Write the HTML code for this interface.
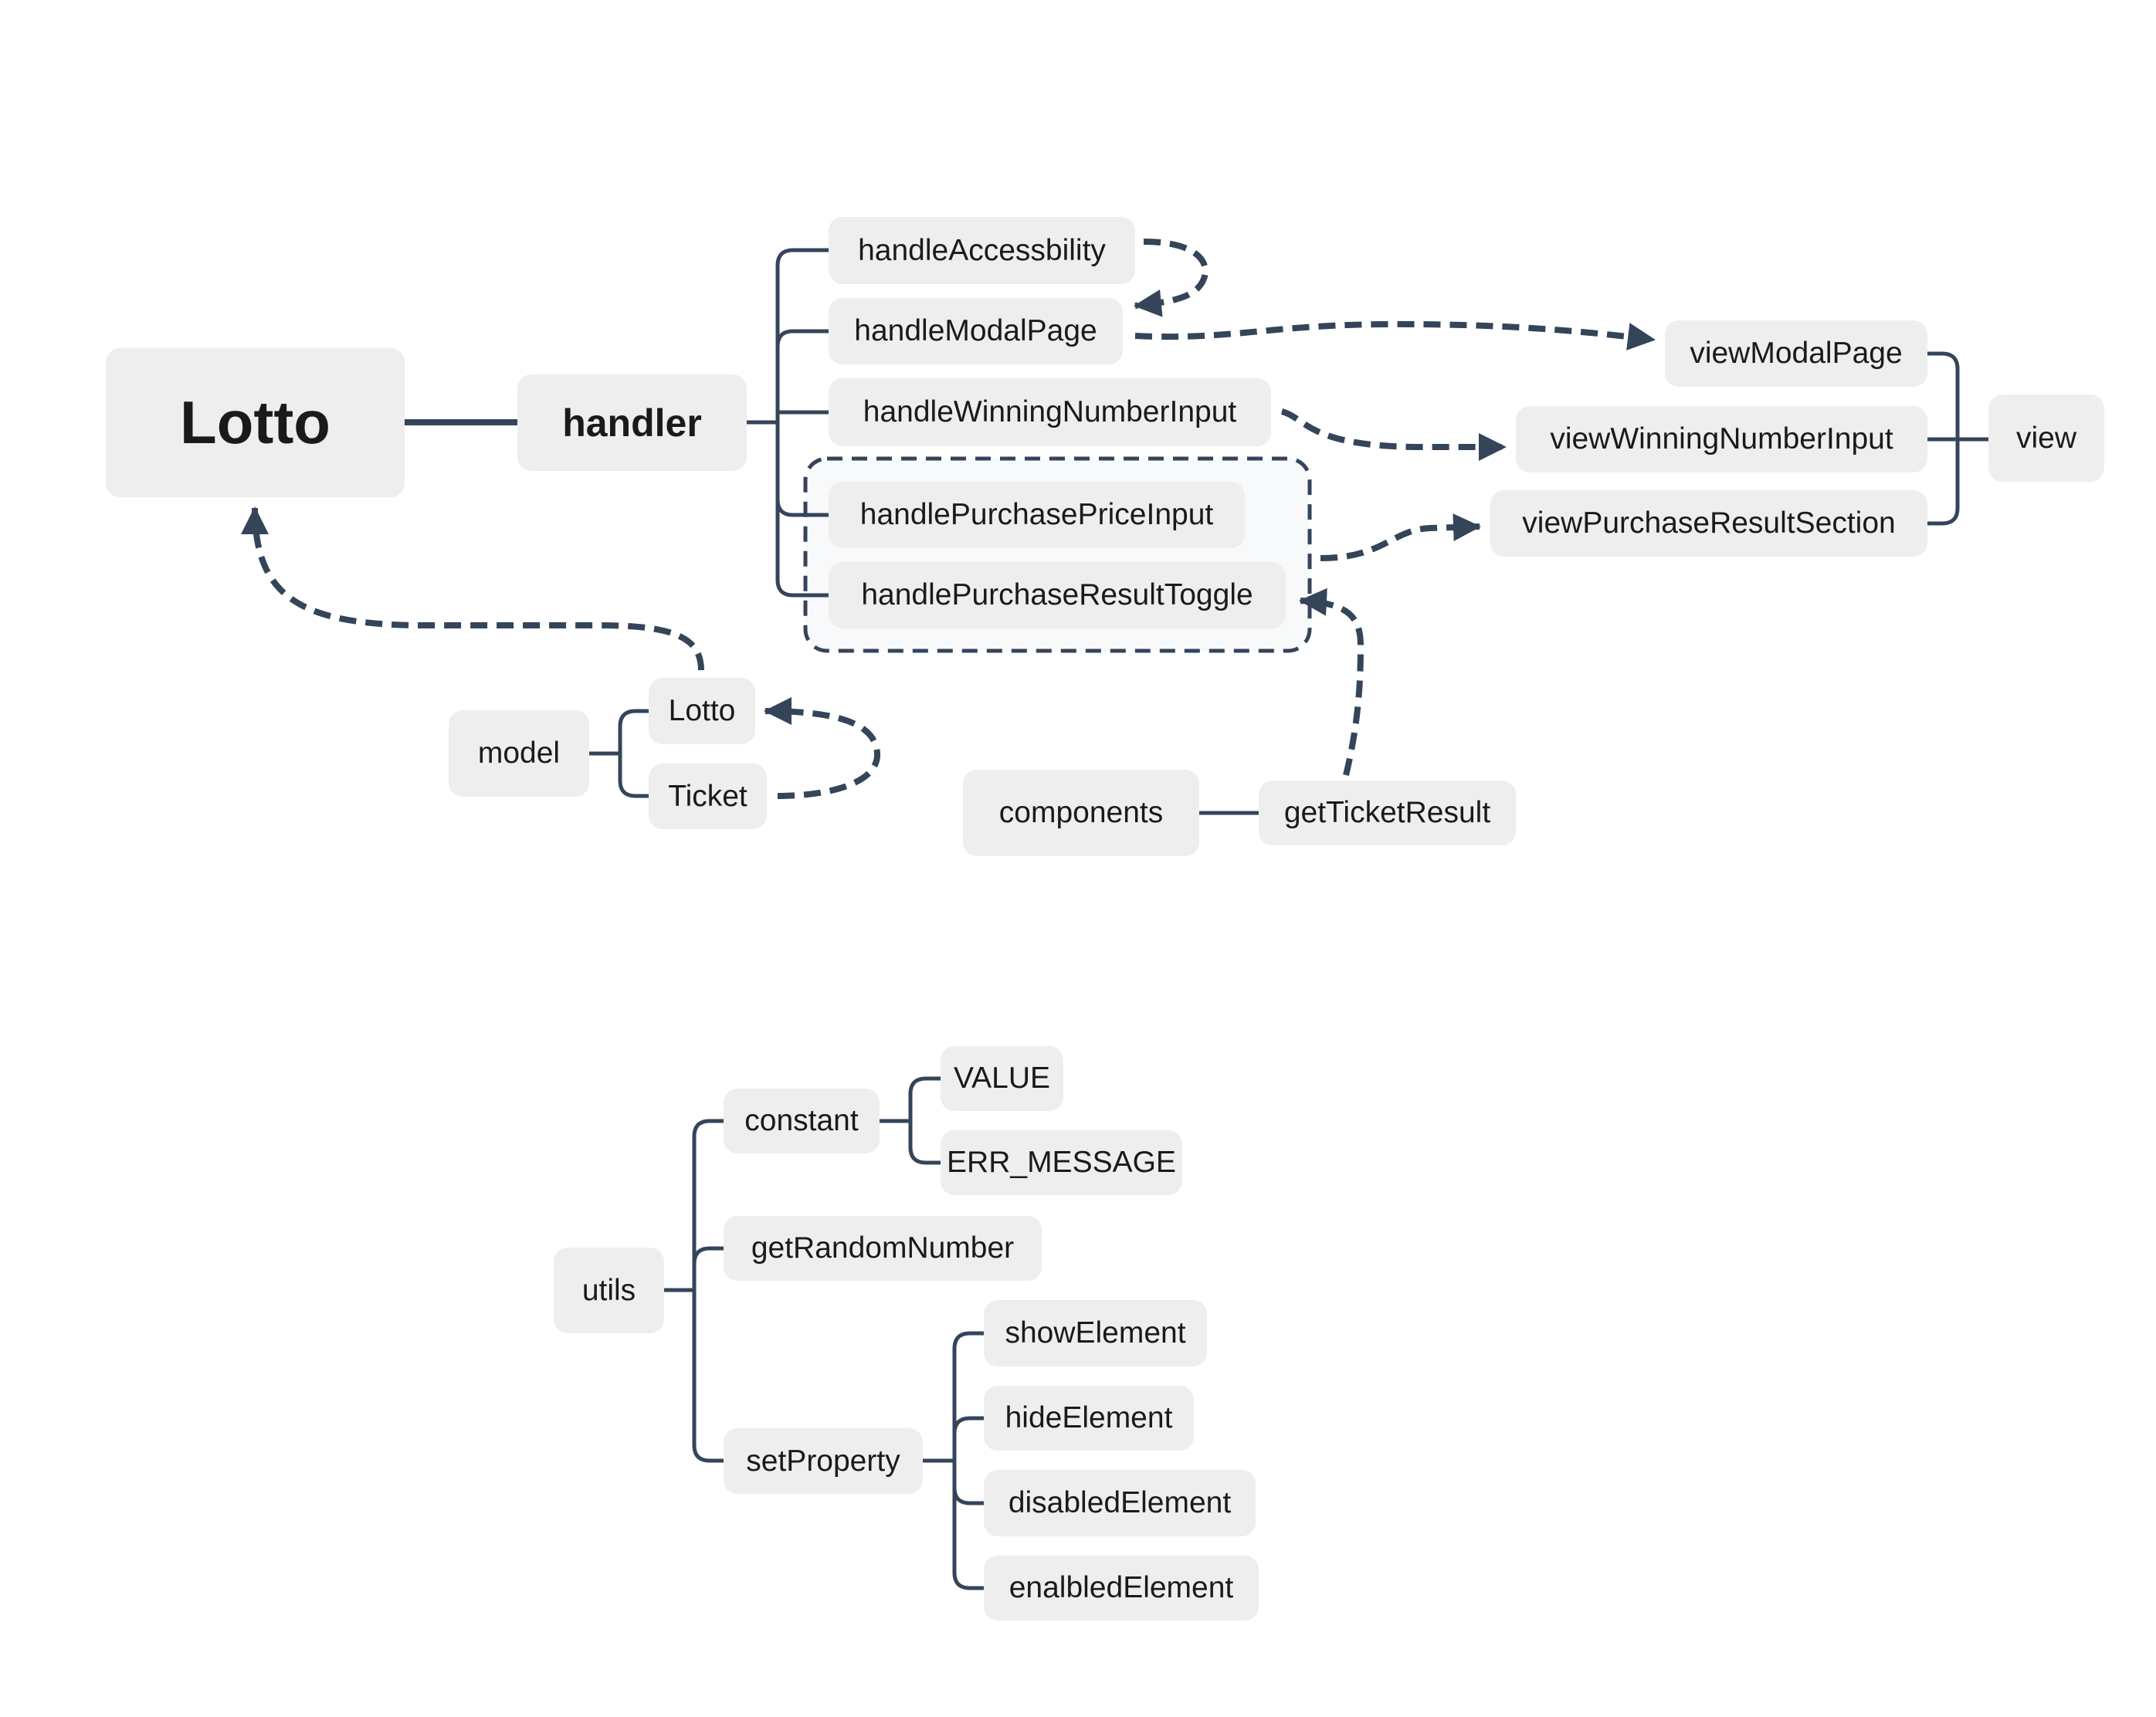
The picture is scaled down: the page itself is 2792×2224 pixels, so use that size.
<!DOCTYPE html>
<html><head><meta charset="utf-8"><style>
html,body{margin:0;padding:0;background:#fff;}
body{width:2792px;height:2224px;position:relative;overflow:hidden;font-family:"Liberation Sans",sans-serif;}
#w{position:absolute;left:0;top:0;width:2792px;height:2224px;transform:translate(-8px,-4px);}
.n{position:absolute;background:#eeeeee;border-radius:18px;color:#1a1a1a;font-size:39px;display:flex;align-items:center;justify-content:center;box-sizing:border-box;white-space:nowrap;}
svg{position:absolute;left:0;top:0;}
</style></head><body><div id="w">
<svg width="2792" height="2224">
<defs>
<marker id="a" markerUnits="userSpaceOnUse" markerWidth="40" markerHeight="40" refX="34" refY="18" orient="auto">
<path d="M0,0 L36,18 L0,36 Z" fill="#34455a"/>
</marker>
</defs>
<rect x="1051" y="598" width="653" height="249" rx="28" fill="#f8f9fb" stroke="#34455a" stroke-width="5" stroke-dasharray="20 12"/>
<g fill="none" stroke="#34455a" stroke-width="5">
<line x1="532" y1="551" x2="678" y2="551" stroke-width="8"/>
<path d="M975,551 H1015"/>
<path d="M1081,328 H1035 Q1015,328 1015,348 V755 Q1015,775 1035,775 H1081"/>
<path d="M1081,433 H1035 Q1015,433 1015,453"/>
<path d="M1015,538 H1081"/>
<path d="M1081,671 H1035 Q1015,671 1015,651"/>
<path d="M2504,462 H2523 Q2543,462 2543,482 V662 Q2543,682 2523,682 H2504"/>
<path d="M2504,573 H2583"/>
<path d="M771,980 H811"/>
<path d="M848,925 H831 Q811,925 811,945 V1015 Q811,1035 831,1035 H848"/>
<path d="M1561,1057 H1638"/>
<path d="M868,1675 H907"/>
<path d="M945,1456 H927 Q907,1456 907,1476 V1876 Q907,1896 927,1896 H945"/>
<path d="M945,1621 H927 Q907,1621 907,1641"/>
<path d="M1147,1456 H1187"/>
<path d="M1226,1401 H1207 Q1187,1401 1187,1421 V1490 Q1187,1510 1207,1510 H1226"/>
<path d="M1203,1896 H1244"/>
<path d="M1282,1731 H1264 Q1244,1731 1244,1751 V2041 Q1244,2061 1264,2061 H1282"/>
<path d="M1282,1841 H1264 Q1244,1841 1244,1861"/>
<path d="M1282,1951 H1264 Q1244,1951 1244,1931"/>
</g>
<g fill="none" stroke="#34455a" stroke-width="8" stroke-dasharray="22 12">
<path d="M1489,317 C1560,317 1575,345 1567,365 C1558,388 1530,395 1478,400" marker-end="url(#a)"/>
<path d="M1478,439 C1600,445 1650,425 1800,424 C1950,423 2050,432 2150,444" marker-end="url(#a)"/>
<path d="M1668,537 C1700,545 1700,583 1850,583 L1957,583" marker-end="url(#a)"/>
<path d="M1718,727 C1800,727 1810,690 1860,688 L1924,686" marker-end="url(#a)"/>
<path d="M1751,1008 C1765,950 1770,900 1770,840 C1770,800 1750,785 1692,782" marker-end="url(#a)"/>
<path d="M1015,1035 C1090,1035 1146,1015 1144,980 C1142,940 1090,925 999,925" marker-end="url(#a)"/>
<path d="M916,872 C916,825 870,814 780,814 L560,814 C400,814 338,780 338,662" marker-end="url(#a)"/>
</g>
</svg>
<div class="n" style="left:145px;top:455px;width:387px;height:193px;font-size:78px;font-weight:bold;">Lotto</div>
<div class="n" style="left:678px;top:489px;width:297px;height:125px;font-size:50px;font-weight:bold;">handler</div>
<div class="n" style="left:1081px;top:285px;width:397px;height:87px;">handleAccessbility</div>
<div class="n" style="left:1081px;top:390px;width:381px;height:86px;">handleModalPage</div>
<div class="n" style="left:1081px;top:494px;width:573px;height:88px;">handleWinningNumberInput</div>
<div class="n" style="left:1081px;top:628px;width:539px;height:86px;">handlePurchasePriceInput</div>
<div class="n" style="left:1081px;top:732px;width:592px;height:86px;">handlePurchaseResultToggle</div>
<div class="n" style="left:2164px;top:419px;width:340px;height:86px;">viewModalPage</div>
<div class="n" style="left:1971px;top:530px;width:533px;height:86px;">viewWinningNumberInput</div>
<div class="n" style="left:1938px;top:639px;width:566px;height:86px;">viewPurchaseResultSection</div>
<div class="n" style="left:2583px;top:515px;width:150px;height:113px;">view</div>
<div class="n" style="left:589px;top:924px;width:182px;height:112px;">model</div>
<div class="n" style="left:848px;top:882px;width:138px;height:86px;">Lotto</div>
<div class="n" style="left:848px;top:993px;width:153px;height:85px;">Ticket</div>
<div class="n" style="left:1255px;top:1001px;width:306px;height:112px;">components</div>
<div class="n" style="left:1638px;top:1015px;width:333px;height:84px;">getTicketResult</div>
<div class="n" style="left:725px;top:1620px;width:143px;height:111px;">utils</div>
<div class="n" style="left:945px;top:1414px;width:202px;height:84px;">constant</div>
<div class="n" style="left:1226px;top:1359px;width:159px;height:84px;">VALUE</div>
<div class="n" style="left:1226px;top:1468px;width:313px;height:84px;">ERR_MESSAGE</div>
<div class="n" style="left:945px;top:1579px;width:412px;height:84px;">getRandomNumber</div>
<div class="n" style="left:945px;top:1854px;width:258px;height:85px;">setProperty</div>
<div class="n" style="left:1282px;top:1688px;width:289px;height:86px;">showElement</div>
<div class="n" style="left:1282px;top:1799px;width:272px;height:84px;">hideElement</div>
<div class="n" style="left:1282px;top:1908px;width:352px;height:86px;">disabledElement</div>
<div class="n" style="left:1282px;top:2019px;width:356px;height:84px;">enalbledElement</div>
</div></body></html>
